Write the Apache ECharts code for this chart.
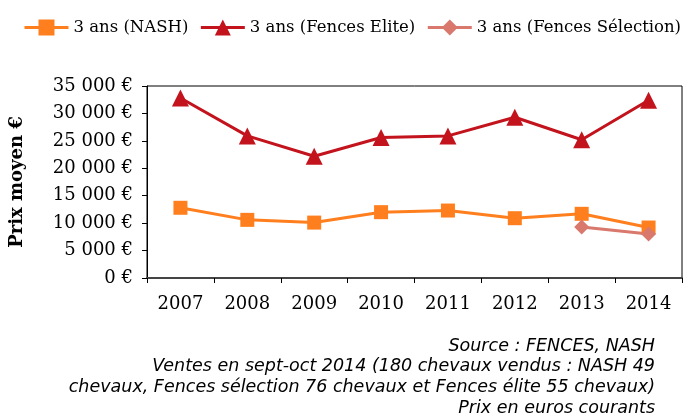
<!DOCTYPE html>
<html>
<head>
<meta charset="utf-8">
<script src="https://cdn.jsdelivr.net/npm/echarts@6/dist/echarts.min.js"></script>
<style>html,body{margin:0;padding:0;background:#fff}#c{width:692px;height:418px}</style>
</head>
<body>
<div id="c"></div>
<script>
const years = ['2007','2008','2009','2010','2011','2012','2013','2014'];
const nash = [12800, 10600, 10100, 12000, 12300, 10900, 11700, 9200];
const elite = [32800, 25900, 22200, 25600, 25900, 29300, 25200, 32400];
const selection = [null, null, null, null, null, null, 9300, 8000];
const seriesNames = ['3 ans (NASH)', '3 ans (Fences Elite)', '3 ans (Fences Sélection)'];
const yTicks = [0, 5000, 10000, 15000, 20000, 25000, 30000, 35000];
const notes = [
  'Source : FENCES, NASH',
  'Ventes en sept-oct 2014 (180 chevaux vendus : NASH 49',
  'chevaux, Fences sélection 76 chevaux et Fences élite 55 chevaux)',
  'Prix en euros courants'
];

const serif = '"DejaVu Serif", "Liberation Serif", serif';
function fmt(v){ return String(v).replace(/\B(?=(\d{3})+(?!\d))/g, ' ') + ' €'; }

const chart = echarts.init(document.getElementById('c'));
chart.setOption({
  animation: false,
  legend: {
    left: 18, right: 0, top: 14,
    itemWidth: 44, itemHeight: 20, itemGap: 11,
    lineStyle: { width: 3 },
    textStyle: { fontFamily: serif, fontSize: 16.5, color: '#000' },
    data: seriesNames
  },
  grid: { left: 147, right: 10, top: 86, bottom: 140, show: true, borderColor: '#000', borderWidth: 1 },
  xAxis: {
    type: 'category', data: years, boundaryGap: true,
    axisLine: { lineStyle: { color: '#444', width: 2 } },
    axisTick: { show: true, length: 5, lineStyle: { color: '#000' } },
    axisLabel: { fontFamily: serif, fontSize: 18, color: '#000', margin: 17 }
  },
  yAxis: {
    type: 'value', min: yTicks[0], max: yTicks[yTicks.length-1], interval: 5000,
    name: 'Prix moyen €', nameLocation: 'middle', nameGap: 121, nameRotate: 90,
    nameTextStyle: { fontFamily: serif, fontSize: 18, fontWeight: 'bold', color: '#000' },
    axisLine: { show: true, lineStyle: { color: '#000' } },
    axisTick: { show: true, length: 5, lineStyle: { color: '#000' } },
    splitLine: { show: false },
    axisLabel: { fontFamily: serif, fontSize: 18, color: '#000', margin: 14, formatter: fmt }
  },
  series: [
    { name: seriesNames[0], type: 'line', data: nash, symbol: 'rect', symbolSize: 14,
      itemStyle: { color: '#FF7F1E' }, lineStyle: { color: '#FF7F1E', width: 3 } },
    { name: seriesNames[1], type: 'line', data: elite, symbol: 'triangle', symbolSize: 17,
      itemStyle: { color: '#C3141E' }, lineStyle: { color: '#C3141E', width: 3 } },
    { name: seriesNames[2], type: 'line', data: selection, symbol: 'diamond', symbolSize: 15,
      itemStyle: { color: '#D9786C' }, lineStyle: { color: '#D9786C', width: 3 } }
  ],
  graphic: notes.map((t, i) => ({
    type: 'text', x: 655, y: 346 + i * 20.7,
    style: { text: t, x: 0, y: 0, fontFamily: '"DejaVu Sans", Verdana, sans-serif', fontStyle: 'italic', fontSize: 17.5, fill: '#000', align: 'right', verticalAlign: 'middle' }
  }))
});
</script>
</body>
</html>
